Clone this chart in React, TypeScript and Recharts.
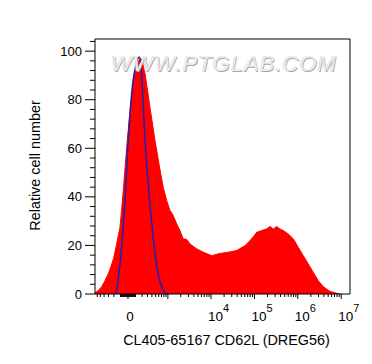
import React from 'react';
import { ComposedChart, Area, Line, XAxis, YAxis, ReferenceLine, Label } from 'recharts';

// biexponential-like display transform (decades from zero)
const BIEX_W = 122;
const toDisplay = (v: number) => Math.asinh(v / (2 * BIEX_W)) / Math.LN10;

// CD62L stained sample: display channel (decades) and relative cell number
const sampleChannel = [
  -0.76, -0.684, -0.606, -0.53, -0.461, -0.399, -0.334, -0.276, -0.23, -0.184,
  -0.145, -0.108, -0.062, -0.016, 0.023, 0.062, 0.122, 0.161, 0.2, 0.242,
  0.276, 0.316, 0.346, 0.392, 0.449, 0.507, 0.565, 0.622, 0.691, 0.753,
  0.818, 0.892, 0.968, 1.037, 1.122, 1.198, 1.274, 1.353, 1.429, 1.583,
  1.735, 1.929, 2.12, 2.311, 2.505, 2.696, 2.811, 2.887, 2.966, 3.081,
  3.196, 3.272, 3.348, 3.426, 3.502, 3.578, 3.694, 3.809, 3.924, 4.039,
  4.154, 4.27, 4.385, 4.5, 4.654, 4.809, 4.885,
];
const sampleCount = [
  0.5, 1.4, 3, 5.5, 8, 11, 14.5, 19.2, 23.5, 27.5,
  35, 42.6, 53, 63.2, 70.5, 77, 88, 92, 94.8, 95.5,
  97, 96.5, 94.5, 90.8, 84, 76.8, 70, 63.2, 56, 49.6,
  43.5, 38.5, 34.4, 32.5, 28.9, 26, 22.7, 22.5, 20.6, 18.6,
  17.2, 15.8, 16.7, 17.2, 17.9, 19.9, 22, 23.5, 25.4, 26.1,
  26.8, 27.8, 26.8, 27.8, 26.8, 26.1, 24.7, 22.7, 19.2, 15.8,
  12.4, 8.9, 5.5, 3, 1.1, 0.3, 0,
];

// isotype control
const isotypeChannel = [
  -0.288, -0.253, -0.212, -0.173, -0.134, -0.097, -0.058, -0.005, 0.058, 0.12,
  0.173, 0.219, 0.265, 0.304, 0.35, 0.403, 0.479, 0.558, 0.634, 0.71, 0.788, 0.864, 0.933,
];
const isotypeCount = [
  0, 2, 8.2, 14, 22, 31, 42.6, 60.5, 77, 88,
  93.4, 96.5, 97.6, 93, 78, 60.5, 42.6, 27.5, 15, 7, 2.5, 0.5, 0,
];

const xLabeledTicks = [0, 1e4, 1e5, 1e6, 1e7];
const xMajorTicks = [0, 1e3, 1e4, 1e5, 1e6, 1e7];
const yMajorTicks = [0, 20, 40, 60, 80, 100];
const yMinorStep = 4;

const X_DOMAIN: [number, number] = [-0.76, 5.116];
const Y_DOMAIN: [number, number] = [0, 105];

const sampleData = sampleChannel.map((c, i) => ({ c, n: sampleCount[i] }));
const isotypeData = isotypeChannel.map((c, i) => ({ c, n: isotypeCount[i] }));

type XT = { u: number; major: boolean; exp: number | null };
const buildXTicks = (): XT[] => {
  const out: XT[] = [];
  const inDomain = (u: number) => u >= X_DOMAIN[0] - 1e-9 && u <= X_DOMAIN[1] + 1e-9;
  for (let k = 1; k <= 7; k++) {
    for (let m = 1; m <= 9; m++) {
      const v = m * Math.pow(10, k);
      if (m === 1 && xMajorTicks.includes(v)) continue;
      [v, -v].forEach((val) => {
        const u = toDisplay(val);
        if (inDomain(u)) out.push({ u, major: false, exp: null });
      });
    }
  }
  xMajorTicks.forEach((v) => {
    const lab = xLabeledTicks.includes(v);
    out.push({ u: toDisplay(v), major: true, exp: lab ? (v === 0 ? 0 : Math.round(Math.log10(v))) : null });
  });
  out.sort((a, b) => a.u - b.u);
  return out;
};
const xTicks = buildXTicks();

const yTicks: { v: number; major: boolean }[] = [];
for (let v = 0; v <= 104; v += yMinorStep) yTicks.push({ v, major: yMajorTicks.includes(v) });

const FONT = '"Liberation Sans", Arial, Helvetica, sans-serif';

const XTick = (props: any) => {
  const { x, y, index } = props;
  const t = xTicks[index];
  if (!t) return null;
  const len = t.major ? 5 : 3;
  return (
    <g>
      <line x1={x} y1={y} x2={x} y2={y + len} stroke="#000" strokeWidth={1} />
      {t.exp === 0 && (
        <text x={x + 2} y={y + 27} textAnchor="middle" fontSize={13.5} fontFamily={FONT} fill="#000">0</text>
      )}
      {t.exp !== null && t.exp > 0 && (
        <text x={x - 3} y={y + 27} textAnchor="start" fontSize={13.5} fontFamily={FONT} fill="#000">
          <tspan>10</tspan>
          <tspan dy={-9} fontSize={11}>{t.exp}</tspan>
        </text>
      )}
    </g>
  );
};

const YTick = (props: any) => {
  const { x, y, index } = props;
  const t = yTicks[index];
  if (!t) return null;
  const len = t.major ? 10 : 5;
  return (
    <g>
      <line x1={x} y1={y} x2={x - len} y2={y} stroke="#000" strokeWidth={1} />
      {t.major && (
        <text x={x - 13} y={y + 4.5} textAnchor="end" fontSize={13} fontFamily={FONT} fill="#000">{t.v}</text>
      )}
    </g>
  );
};

export default function App() {
  return (
    <div style={{ position: 'absolute', left: 0, top: 0, width: 372, height: 364, background: '#fff' }}>
      <ComposedChart width={372} height={364} margin={{ top: 39, right: 22, bottom: 0, left: 0 }}>
        <XAxis
          type="number"
          dataKey="c"
          domain={X_DOMAIN}
          allowDataOverflow
          ticks={xTicks.map((t) => t.u)}
          interval={0}
          tick={<XTick />}
          tickLine={false}
          tickSize={0}
          tickMargin={0}
          height={70}
          axisLine={{ stroke: '#000', strokeWidth: 1 }}
        >
          <Label
            content={(p: any) => {
              const vb = p.viewBox || { x: 95, y: 294, width: 255 };
              return (
                <text x={vb.x + vb.width / 2 + 4} y={vb.y + 51} textAnchor="middle" fontSize={14.4} fontFamily={FONT} fill="#000">
                  CL405-65167 CD62L (DREG56)
                </text>
              );
            }}
          />
        </XAxis>
        <YAxis
          type="number"
          dataKey="n"
          domain={Y_DOMAIN}
          allowDataOverflow
          ticks={yTicks.map((t) => t.v)}
          interval={0}
          tick={<YTick />}
          tickLine={false}
          tickSize={0}
          tickMargin={0}
          width={95}
          axisLine={{ stroke: '#000', strokeWidth: 1 }}
        >
          <Label
            content={(p: any) => {
              const vb = p.viewBox || { x: 0, y: 39, width: 95, height: 255 };
              const cx = 35;
              const cy = vb.y + vb.height / 2 - 1;
              return (
                <text x={cx} y={cy} transform={`rotate(-90, ${cx}, ${cy})`} textAnchor="middle" dominantBaseline="central" fontSize={14.4} fontFamily={FONT} fill="#000">
                  Relative cell number
                </text>
              );
            }}
          />
        </YAxis>
        <ReferenceLine y={Y_DOMAIN[1]} stroke="#000" strokeWidth={1} />
        <ReferenceLine x={X_DOMAIN[1]} stroke="#000" strokeWidth={1} />
        <Area
          data={sampleData}
          dataKey="n"
          type="linear"
          stroke="#ff0000"
          strokeWidth={1}
          fill="#ff0000"
          fillOpacity={1}
          isAnimationActive={false}
          dot={false}
          activeDot={false}
        />
        <Line
          data={isotypeData}
          dataKey="n"
          type="monotone"
          stroke="#2b1ea6"
          strokeWidth={1.6}
          dot={false}
          activeDot={false}
          isAnimationActive={false}
        />
      </ComposedChart>
      <div
        style={{
          position: 'absolute',
          left: 111,
          top: 51,
          fontFamily: FONT,
          fontStyle: 'italic',
          fontSize: 22,
          letterSpacing: 1,
          color: 'rgba(245,245,245,0.85)',
          textShadow: '0.8px 0.8px 0.4px #a8a8a8, -0.4px -0.4px 0 #d0d0d0',
          whiteSpace: 'nowrap',
          pointerEvents: 'none',
          lineHeight: '26px',
        }}
      >
        WWW.PTGLAB.COM
      </div>
    </div>
  );
}
